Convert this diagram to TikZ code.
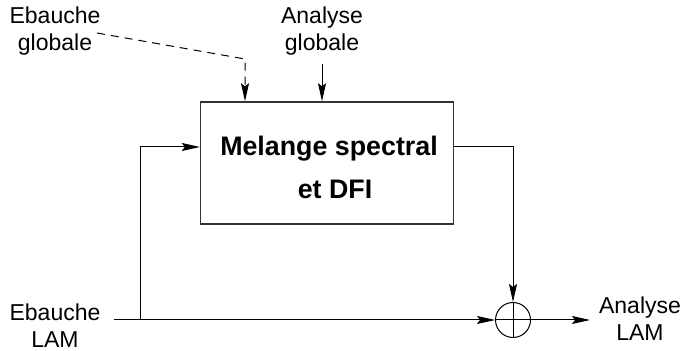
\documentclass[tikz,border=0pt]{standalone}
\usepackage{fontspec}
\setsansfont{Liberation Sans}
\usetikzlibrary{arrows.meta}

\begin{document}
\begin{tikzpicture}[
    x=0.5pt, y=-0.5pt,
    >={Stealth[length=9pt, width=4pt, inset=1.5pt]},
    label style/.style={font=\sffamily\fontsize{11.5}{13.5}\selectfont, align=center, inner sep=0pt},
    box style/.style={draw, line width=0.7pt, black!80, text=black, minimum width=126.5pt, minimum height=61pt,
        font=\sffamily\bfseries\fontsize{13.4}{21.5}\selectfont, align=center},
    sum style/.style={circle, draw, line width=0.5pt, minimum size=17.5pt, inner sep=0pt},
    path style/.style={line width=0.5pt, ->},
    dashed path style/.style={line width=0.5pt, dash pattern=on 4pt off 3pt, ->}
]
\useasboundingbox (0,0) rectangle (684,351);

% Draw the block and the summing junction
\node[box style] (mix) at (327,163) {};
\node[font=\sffamily\bfseries\fontsize{13.4}{21.5}\selectfont, align=center] (mixtext) at (329,167) {Melange spectral\\\hspace*{6pt}et DFI};
\node[sum style] (sum) at (513,320) {};
\draw[line width=0.5pt] (sum.north) -- (sum.south) (sum.west) -- (sum.east);

% Draw the labels
\node[label style] (ebg) at (55,31) {Ebauche\\globale};
\node[label style] (ang) at (322,31) {Analyse\\globale};
\node[label style] (ebl) at (55,326) {Ebauche\\LAM};
\node[label style] (anl) at (640,319) {Analyse\\LAM};

% Free ends and corners of the connectors
\coordinate (dstart) at (97,33);
\coordinate (dbend) at (245,59);
\coordinate (lin) at (114,320);
\coordinate (split) at (140,320);
\coordinate (lout) at (590,320);

% Draw the connectors
\draw[dashed path style] (dstart) -- (dbend) -- (dbend |- mix.north);
\draw[path style] ([yshift=-4pt]ang.south) -- (ang.south |- mix.north);
\draw[line width=0.5pt] (lin) -- (split);
\draw[path style] (split) -- (sum.west);
\draw[path style] (split) |- ([yshift=8pt]mix.west);
\draw[path style] ([yshift=8pt]mix.east) -| (sum.north);
\draw[path style] (sum.east) -- (lout);
\end{tikzpicture}
\end{document}
